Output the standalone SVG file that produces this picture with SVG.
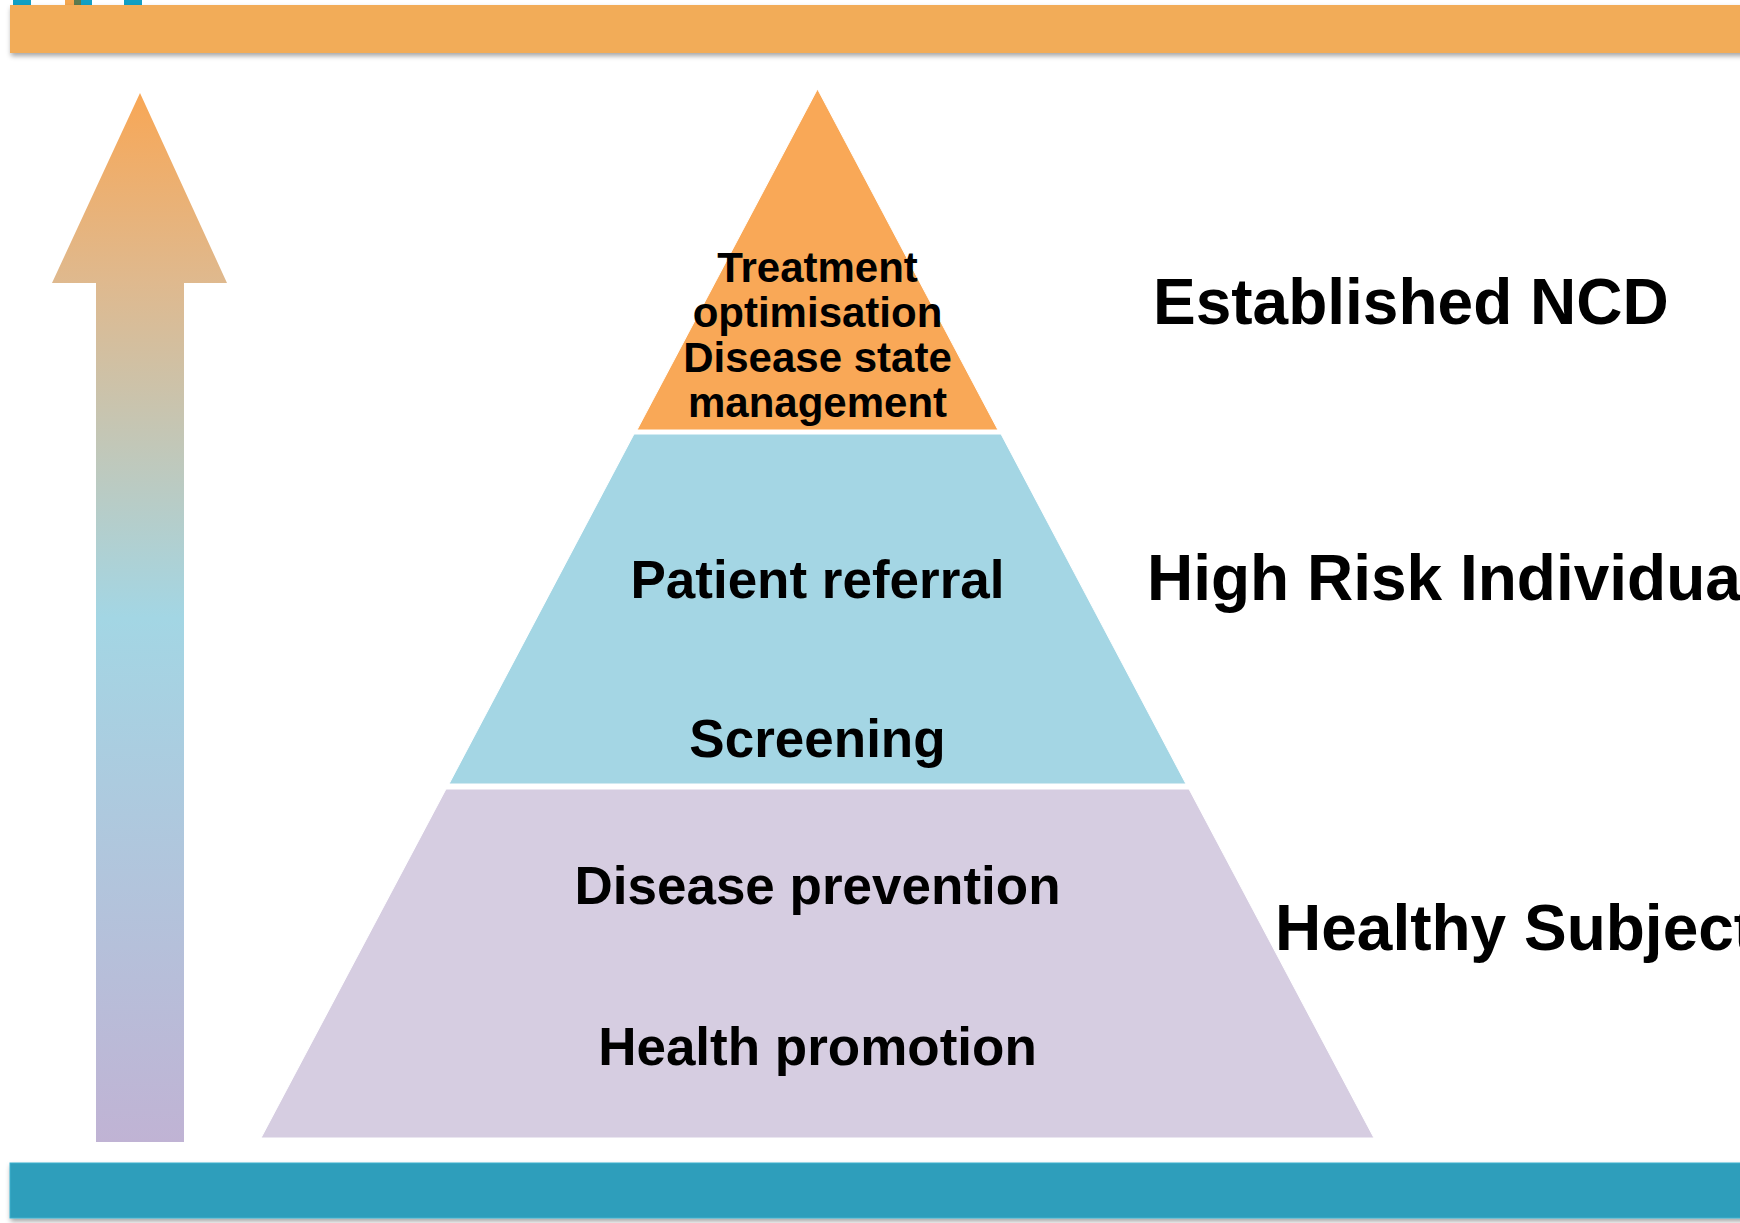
<svg xmlns="http://www.w3.org/2000/svg" width="1740" height="1223" viewBox="0 0 1740 1223">
<defs>
<linearGradient id="arrowGrad" x1="0" y1="93" x2="0" y2="1142" gradientUnits="userSpaceOnUse">
<stop offset="0" stop-color="#F8A756"/>
<stop offset="0.18" stop-color="#DFB98E"/>
<stop offset="0.5" stop-color="#A3D6E4"/>
<stop offset="1" stop-color="#C0B3D4"/>
</linearGradient>
<filter id="shadow" x="-5%" y="-50%" width="110%" height="200%">
<feDropShadow dx="1" dy="3" stdDeviation="2.5" flood-color="#000" flood-opacity="0.35"/>
</filter>
</defs>
<style>
.lbl{font-family:"Liberation Sans",Arial,sans-serif;font-weight:bold;fill:#000;text-anchor:middle}
.side{font-family:"Liberation Sans",Arial,sans-serif;font-weight:bold;fill:#000;font-size:64px}
.tier{stroke:#fff;stroke-width:1}
</style>
<rect width="1740" height="1223" fill="#fff"/>
<g id="top-marks">
<rect x="13" y="0" width="18" height="5" fill="#12A0C4"/>
<rect x="65" y="0" width="9" height="5" fill="#F4A64E"/>
<rect x="74" y="0" width="7" height="5" fill="#5C7A4E"/>
<rect x="81" y="0" width="11" height="5" fill="#12A0C4"/>
<rect x="124" y="0" width="18" height="5" fill="#12A0C4"/>
</g>
<g id="top-bar">
<rect x="10" y="5" width="1740" height="48" fill="#F2AC59" filter="url(#shadow)"/>
</g>
<g id="bottom-bar">
<rect x="10" y="1163" width="1740" height="55" fill="#2E9EBB" stroke="#3BB0CE" stroke-width="1" filter="url(#shadow)"/>
</g>
<g id="arrow">
<polygon points="140,93 227,283 184,283 184,1142 96,1142 96,283 52,283" fill="url(#arrowGrad)"/>
</g>
<g id="tier-top">
<polygon class="tier" points="817.5,89 998,430 637,430" fill="#F9A857"/>
<text class="lbl" font-size="42" x="817.5" y="282">Treatment</text>
<text class="lbl" font-size="42" x="817.5" y="327">optimisation</text>
<text class="lbl" font-size="42" x="817.5" y="372">Disease state</text>
<text class="lbl" font-size="42" x="817.5" y="417">management</text>
</g>
<g id="tier-middle">
<polygon class="tier" points="634,434 1001,434 1186,784 449,784" fill="#A4D6E4"/>
<text class="lbl" font-size="53" x="817.5" y="598">Patient referral</text>
<text class="lbl" font-size="53" x="817.5" y="757">Screening</text>
</g>
<g id="tier-bottom">
<polygon class="tier" points="446,789 1189,789 1374,1138 261,1138" fill="#D6CDE1"/>
<text class="lbl" font-size="53" x="817.5" y="904">Disease prevention</text>
<text class="lbl" font-size="53" x="817.5" y="1065">Health promotion</text>
</g>
<g id="side-labels">
<text class="side" x="1153" y="324">Established NCD</text>
<text class="side" x="1147" y="600">High Risk Individua</text>
<text class="side" x="1275" y="950">Healthy Subject</text>
</g>
<g id="connectors"></g>
</svg>
